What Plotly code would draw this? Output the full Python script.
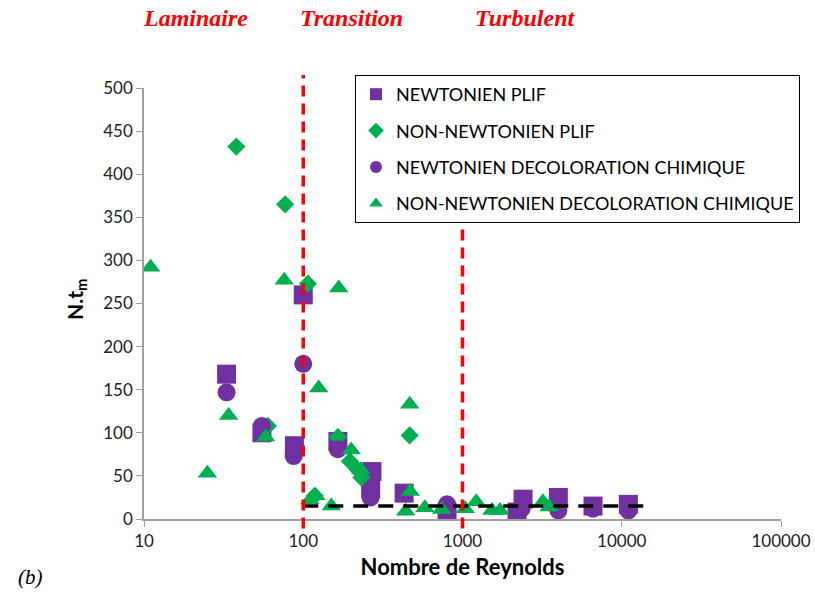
import plotly.graph_objects as go

# Données (Re, N.tm)
re_newt_plif = [33, 100, 55, 88, 165, 270, 265, 430, 800, 2400, 2200, 4000, 6600, 11000]
nt_newt_plif = [168, 260, 100, 85, 90, 55, 35, 30, 8, 23, 8, 25, 15, 17]

re_nonnewt_plif = [38, 77, 107, 60, 165, 196, 220, 232, 466, 118]
nt_nonnewt_plif = [432, 365, 273, 108, 95, 67, 57, 48, 97, 27]

re_newt_dec = [33, 100, 55, 87, 165, 265, 800, 2350, 4000, 6600, 11000]
nt_newt_dec = [147, 180, 108, 73, 81, 25, 17, 12, 10, 12, 10]

re_nonnewt_dec = [11, 25, 34, 58, 76, 125, 167, 110, 120, 150, 200, 230, 466, 470,
                  440, 580, 740, 1040, 1220, 1530, 1720, 3200, 3500]
nt_nonnewt_dec = [292, 53, 120, 95, 277, 152, 268, 22, 27, 15, 80, 57, 133, 32,
                  9, 13, 11, 12, 20, 10, 10, 20, 14]

# limites des régimes et niveau de référence
regime_bounds = [100, 1000]
ref_level = 15
ref_re = [100, 14500]

x_tickvals = [10, 100, 1000, 10000, 100000]
x_ticktext = ["10", "100", "1000", "10000", "100000"]

purple = "#7030A0"
green = "#00B050"

fig = go.Figure()

fig.add_trace(go.Scatter(
    x=re_newt_plif, y=nt_newt_plif, mode="markers", name="NEWTONIEN PLIF",
    legendgroup="a", marker=dict(symbol="square", size=19, color=purple)
))
fig.add_trace(go.Scatter(
    x=re_nonnewt_plif, y=nt_nonnewt_plif, mode="markers", name="NON-NEWTONIEN PLIF",
    legendgroup="b", marker=dict(symbol="diamond", size=14, color=green)
))
fig.add_trace(go.Scatter(
    x=re_newt_dec, y=nt_newt_dec, mode="markers", name="NEWTONIEN DECOLORATION CHIMIQUE",
    legendgroup="c", marker=dict(symbol="circle", size=18, color=purple)
))
fig.add_trace(go.Scatter(
    x=re_nonnewt_dec, y=nt_nonnewt_dec, mode="markers",
    name="NON-NEWTONIEN DECOLORATION CHIMIQUE",
    legendgroup="d", marker=dict(symbol="triangle-up", size=17, color=green)
))

# ligne de référence noire en pointillés
fig.add_trace(go.Scatter(
    x=ref_re, y=[ref_level, ref_level], mode="lines", showlegend=False,
    line=dict(color="black", width=3.5, dash="15px,10px")
))

# lignes rouges des régimes
fig.add_shape(type="line", xref="x", yref="paper", x0=regime_bounds[0], x1=regime_bounds[0],
              y0=-0.022, y1=1.03, layer="above",
              line=dict(color="#FF0000", width=3.5, dash="11px,7px"))
fig.add_shape(type="line", xref="x", yref="paper", x0=regime_bounds[1], x1=regime_bounds[1],
              y0=-0.022, y1=0.74, layer="above",
              line=dict(color="#FF0000", width=3.5, dash="11px,7px"))

labels = ["Laminaire", "Transition", "Turbulent"]
label_x = [195, 351, 525]
for txt, px in zip(labels, label_x):
    fig.add_annotation(
        text="<b><i>" + txt + "</i></b>", xref="paper", yref="paper",
        x=(px - 144) / 637, y=(519 - 18) / 431, showarrow=False,
        xanchor="center", yanchor="middle",
        font=dict(family="Liberation Serif", size=24, color="#FF0000")
    )

fig.add_annotation(
    text="<i>(b)</i>", xref="paper", yref="paper", x=(30 - 144) / 637, y=(519 - 577) / 431,
    showarrow=False, xanchor="center", yanchor="middle",
    font=dict(family="Liberation Serif", size=21, color="black")
)

# titre de l'axe y
fig.add_annotation(
    text="<b>N.t<sub>m</sub></b>", xref="paper", yref="paper", x=(76 - 144) / 637,
    y=(519 - 300) / 431, showarrow=False, textangle=-90,
    xanchor="center", yanchor="middle",
    font=dict(family="Lato", size=21, color="black")
)

fig.update_layout(
    width=815, height=595,
    margin=dict(l=144, r=34, t=88, b=76),
    plot_bgcolor="white", paper_bgcolor="white",
    font=dict(family="Lato", size=17, color="#222222"),
    showlegend=True,
    legend=dict(
        x=(355 - 144) / 637, y=(519 - 75) / 431, xanchor="left", yanchor="top",
        bordercolor="black", borderwidth=1, bgcolor="white",
        font=dict(family="Lato", size=18, color="black"),
        traceorder="grouped", tracegroupgap=10, itemsizing="constant"
    ),
    xaxis=dict(
        type="log", range=[1, 5], tickvals=x_tickvals, ticktext=x_ticktext,
        showgrid=False, zeroline=False, showline=True, linecolor="#A0A0A0", linewidth=1.5,
        ticks="outside", tickcolor="#A0A0A0", ticklen=6, automargin=False,
        title=dict(text="<b>Nombre de Reynolds</b>", font=dict(size=22, color="black"), standoff=9)
    ),
    yaxis=dict(
        range=[0, 500], dtick=50, showgrid=False, zeroline=False, showline=True,
        linecolor="#A0A0A0", linewidth=1.5, ticks="outside", tickcolor="#A0A0A0", ticklen=6,
        automargin=False
    )
)

# supprime la marge par défaut de la page
fig.write_html("out.html", config={"displayModeBar": False},
               post_script="document.body.style.margin='0';")
